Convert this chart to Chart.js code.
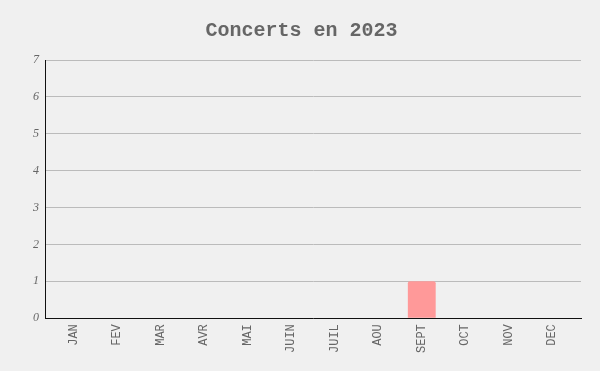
<!DOCTYPE html>
<html><head><meta charset="utf-8">
<script src="https://cdn.jsdelivr.net/npm/chart.js@4/dist/chart.umd.min.js"></script>
<style>html,body{margin:0;padding:0;background:#f0f0f0;}#wrap{width:600px;height:371px;}</style>
</head><body><div id="wrap"><canvas id="c"></canvas></div>
<script>
const months = ['JAN','FEV','MAR','AVR','MAI','JUIN','JUIL','AOU','SEPT','OCT','NOV','DEC'];
const concerts = [0,0,0,0,0,0,0,0,1,0,0,0];
const yTicks = [0,1,2,3,4,5,6,7];
const titleText = 'Concerts en 2023';
new Chart(document.getElementById('c'), {
  type: 'bar',
  data: { datasets: [{ data: concerts.map((v,i)=>({x:i, y:v})), backgroundColor: '#ff9999', borderRadius: 2, barPercentage: 0.8, categoryPercentage: 0.8 }] },
  options: {
    responsive: true, maintainAspectRatio: false, animation: false,
    layout: { padding: { left: 22, right: 19, top: 6, bottom: 12 } },
    plugins: {
      legend: { display: false },
      tooltip: { enabled: false },
      title: { display: true, text: titleText, color: '#666', font: { family: '"Liberation Mono", monospace', size: 20, weight: 'bold' }, padding: { top: 13, bottom: 17 } }
    },
    scales: {
      x: {
        type: 'linear', offset: false, min: -0.66, max: months.length - 0.34,
        afterBuildTicks: s => { s.ticks = months.map((m,i)=>({value:i})); },
        grid: { display: false, drawTicks: false },
        border: { color: '#111', width: 1 },
        ticks: { color: '#666', maxRotation: 90, minRotation: 90, padding: 6, autoSkip: false,
          callback: v => months[v], font: { family: '"Liberation Mono", monospace', size: 12 } }
      },
      y: {
        min: 0, max: 7,
        afterBuildTicks: s => { s.ticks = yTicks.map(v=>({value:v})); },
        afterFit: s => { s.width = 23; },
        grid: { color: '#bbb', drawTicks: false },
        border: { color: '#111', width: 1 },
        ticks: { color: '#666', padding: 6, font: { family: '"Liberation Serif", serif', size: 12, style: 'italic' } }
      }
    }
  }
});
</script></body></html>
